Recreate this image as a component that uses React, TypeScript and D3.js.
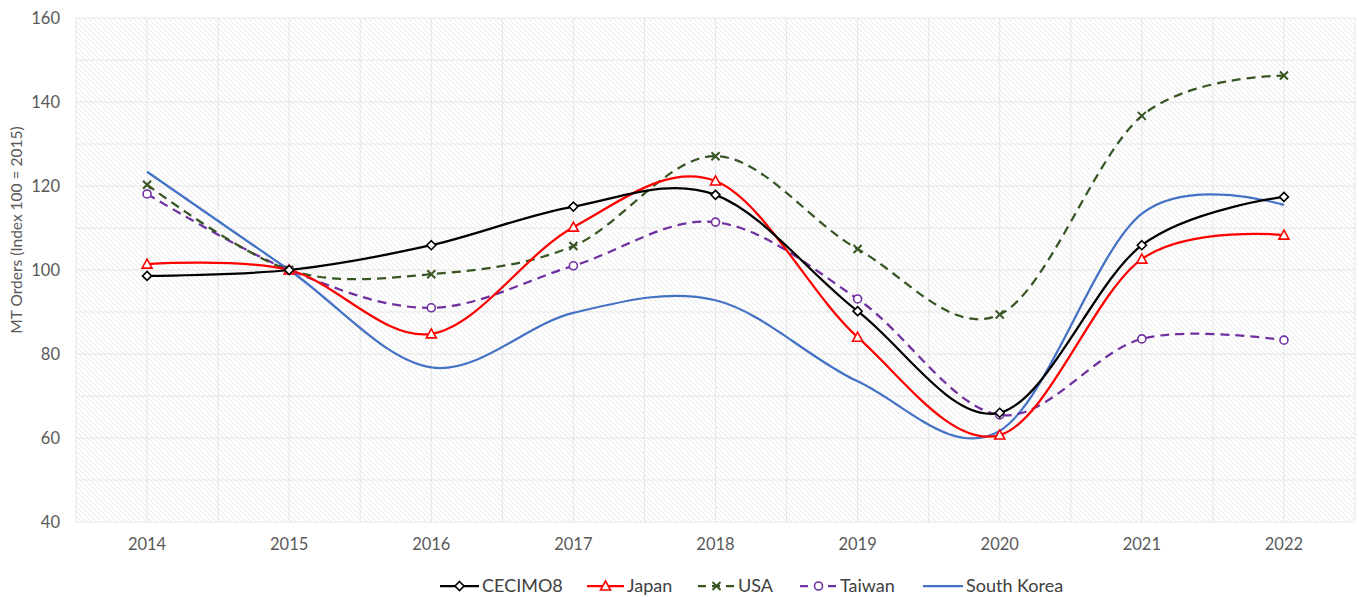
import React from "react";
import * as d3 from "d3";

const years = ["2014", "2015", "2016", "2017", "2018", "2019", "2020", "2021", "2022"];
const cecimo8 = [98.6, 100, 105.9, 115.1, 117.9, 90.2, 66.0, 105.9, 117.4];
const japan = [101.4, 100, 84.8, 110.2, 121.2, 84.0, 60.7, 102.6, 108.3];
const usa = [120.3, 100, 99.0, 105.7, 127.1, 105.0, 89.4, 136.7, 146.3];
const taiwan = [118.1, 100, 91.0, 101.0, 111.4, 93.1, 65.5, 83.6, 83.3];
const southKorea = [123.4, 100, 76.8, 89.8, 92.8, 73.5, 61.7, 113.4, 115.5];
const yTicks = [40, 60, 80, 100, 120, 140, 160];
const yGrid = [40, 50, 60, 70, 80, 90, 100, 110, 120, 130, 140, 150, 160];

type Series = { name: string; values: number[]; color: string; dash?: string; marker: string };
const series: Series[] = [
  { name: "CECIMO8", values: cecimo8, color: "#000000", marker: "diamond" },
  { name: "Japan", values: japan, color: "#FF0000", marker: "triangle" },
  { name: "USA", values: usa, color: "#375623", dash: "9,6", marker: "x" },
  { name: "Taiwan", values: taiwan, color: "#7030A0", dash: "9,6", marker: "circle" },
  { name: "South Korea", values: southKorea, color: "#4472C4", marker: "none" },
];
const drawOrder = [4, 3, 2, 1, 0];

const W = 1359, H = 597;
const left = 76, right = 1355, top = 18, bottom = 522;
const FONT = "Lato, 'Open Sans', 'DejaVu Sans', sans-serif";

function Marker({ type, x, y, color }: { type: string; x: number; y: number; color: string }) {
  if (type === "diamond") {
    const r = 4.5;
    return <path d={`M${x},${y - r}L${x + r},${y}L${x},${y + r}L${x - r},${y}Z`} fill="#fff" stroke={color} strokeWidth={1.6} />;
  }
  if (type === "triangle") {
    const r = 5;
    return <path d={`M${x},${y - r}L${x + r},${y + r * 0.8}L${x - r},${y + r * 0.8}Z`} fill="#fff" stroke={color} strokeWidth={1.6} />;
  }
  if (type === "x") {
    const r = 4;
    return <path d={`M${x - r},${y - r}L${x + r},${y + r}M${x - r},${y + r}L${x + r},${y - r}`} stroke={color} strokeWidth={2} />;
  }
  if (type === "circle") {
    return <circle cx={x} cy={y} r={4} fill="#fff" stroke={color} strokeWidth={1.6} />;
  }
  return null;
}

export default function App() {
  const x = d3.scaleBand<string>().domain(years).range([left, right]);
  const y = d3.scaleLinear().domain([40, 160]).range([bottom, top]);
  const cx = (yr: string) => (x(yr) as number) + x.bandwidth() / 2;
  const line = d3
    .line<number>()
    .x((_, i) => cx(years[i]))
    .y((v) => y(v))
    .curve(d3.curveCardinal.tension(0));

  const vGrid: number[] = [];
  years.forEach((yr) => {
    vGrid.push(x(yr) as number);
    vGrid.push(cx(yr));
  });
  vGrid.push(right);

  const legendItems = [
    { s: series[0], lx: 440, tx: 482 },
    { s: series[1], lx: 587, tx: 627 },
    { s: series[2], lx: 698, tx: 738 },
    { s: series[3], lx: 800, tx: 840 },
    { s: series[4], lx: 923, tx: 966 },
  ];

  return (
    <svg width={W} height={H} style={{ position: "absolute", left: 0, top: 0, background: "#fff" }} fontFamily={FONT}>
      <defs>
        <pattern id="hatch" width="5" height="5" patternUnits="userSpaceOnUse">
          <rect width="5" height="5" fill="#ffffff" />
          <path d="M-1,-1L6,6M-4,1L1,6M4,-1L6,1" stroke="#e8e8e8" strokeWidth={1} />
        </pattern>
        <clipPath id="plotclip">
          <rect x={left} y={top - 10} width={right - left + 10} height={bottom - top + 20} />
        </clipPath>
      </defs>
      <rect x={left} y={top} width={right - left} height={bottom - top} fill="url(#hatch)" />
      {yGrid.map((v) => (
        <line key={"h" + v} x1={left} x2={right} y1={y(v)} y2={y(v)} stroke="#e6e6e6" strokeWidth={1} />
      ))}
      {vGrid.map((g, i) => (
        <line key={"v" + i} x1={g} x2={g} y1={top} y2={bottom} stroke="#e6e6e6" strokeWidth={1} />
      ))}
      {yTicks.map((v) => (
        <text key={"yt" + v} x={60} y={y(v)} dy="0.35em" textAnchor="end" fontSize={16.5} fill="#595959">
          {v}
        </text>
      ))}
      {years.map((yr) => (
        <text key={"xt" + yr} x={cx(yr)} y={550} textAnchor="middle" fontSize={16.5} fill="#595959">
          {yr}
        </text>
      ))}
      <text transform={`translate(22,${(top + bottom) / 2 - 40}) rotate(-90)`} textAnchor="middle" fontSize={15.5} fill="#595959">
        MT Orders (Index 100 = 2015)
      </text>
      <g clipPath="url(#plotclip)">
        {drawOrder.map((k) => {
          const s = series[k];
          return (
            <path key={s.name} d={line(s.values) as string} fill="none" stroke={s.color} strokeWidth={2.25} strokeDasharray={s.dash} />
          );
        })}
        {drawOrder.map((k) => {
          const s = series[k];
          return (
            <g key={s.name + "m"}>
              {s.values.map((v, i) => (
                <Marker key={i} type={s.marker} x={cx(years[i])} y={y(v)} color={s.color} />
              ))}
            </g>
          );
        })}
      </g>
      {legendItems.map(({ s, lx, tx }) => (
        <g key={"lg" + s.name}>
          <line x1={lx} x2={tx - 3} y1={586} y2={586} stroke={s.color} strokeWidth={2.25} strokeDasharray={s.dash ? "8,6" : undefined} />
          <Marker type={s.marker} x={(lx + tx - 3) / 2} y={586} color={s.color} />
          <text x={tx} y={586} dy="0.35em" fontSize={18} fill="#404040">
            {s.name}
          </text>
        </g>
      ))}
    </svg>
  );
}
